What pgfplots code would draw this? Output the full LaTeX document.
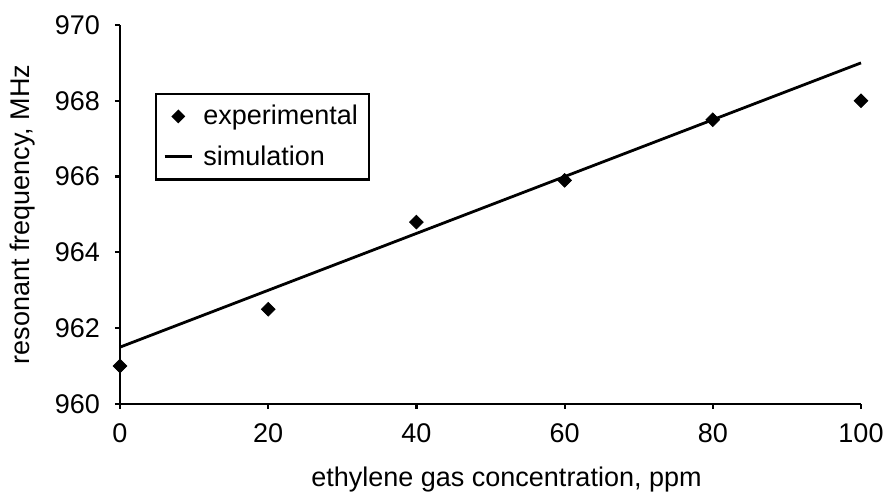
\documentclass[border=0pt]{standalone}
\usepackage{fontspec}
\setmainfont{Liberation Sans}
\usepackage{pgfplots}
\pgfplotsset{compat=1.18}

\begin{document}
\begin{tikzpicture}
\begin{axis}[
  width=370.5pt, height=189.5pt, scale only axis,
  xmin=0, xmax=100, ymin=960, ymax=970,
  xtick={0,20,40,60,80,100}, ytick={960,962,964,966,968,970},
  axis x line=bottom, axis y line=left,
  axis line style={-, line width=1.1pt},
  tick align=outside, major tick length=2.5pt,
  every tick/.style={black, line width=1.1pt},
  tick label style={font=\fontsize{13.5}{16}\selectfont},
  xticklabel style={yshift=-4pt},
  yticklabel style={xshift=-4pt},
  /pgf/number format/assume math mode=true,
  /pgf/number format/1000 sep={},
  xlabel={ethylene gas concentration, ppm},
  every axis x label/.style={at={([shift={(8pt,-41.5pt)}]rel axis cs:0.5,0)},
    anchor=base, font=\fontsize{13.5}{16}\selectfont},
  ylabel={resonant frequency, MHz},
  every axis y label/.style={at={([xshift=-45pt]rel axis cs:0,0.5)},
    rotate=90, anchor=base, font=\fontsize{13.5}{16}\selectfont},
  legend style={at={(0.047,0.821)}, anchor=north west, draw=black,
    line width=1.3pt, font=\fontsize{13.5}{16}\selectfont, inner sep=3.5pt,
    row sep=5pt, column sep=3pt},
  legend cell align=left,
  legend image post style={mark size=1.7pt},
  legend image code/.code={
    \draw[line width=1.5pt, mark repeat=2, mark phase=2]
      plot coordinates {(0.03cm,0cm) (0.27cm,0cm) (0.51cm,0cm)};
  },
  clip=false,
]
\addplot[only marks, mark=square*, mark size=2.4pt, mark options={rotate=45}, black] coordinates {
  (0,961.0) (20,962.5) (40,964.8) (60,965.9) (80,967.5) (100,968.0)
};
\addlegendentry{experimental}
\addplot[black, line width=1.4pt] coordinates {
  (0,961.5) (100,969.0)
};
\addlegendentry{simulation}
\coordinate (bl) at (rel axis cs:0,0);
\coordinate (tr) at (rel axis cs:1,1);
\end{axis}
\pgfresetboundingbox
\path[use as bounding box] ([shift={(-60pt,-45.5pt)}]bl) rectangle ([shift={(13.5pt,12.5pt)}]tr);
\end{tikzpicture}
\end{document}
